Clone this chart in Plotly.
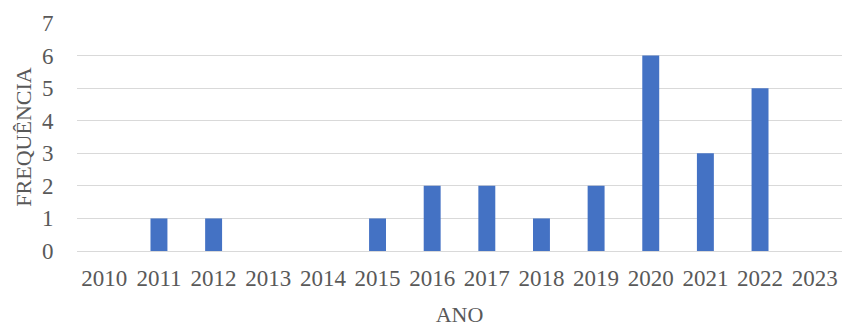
import plotly.graph_objects as go

anos = ["2010", "2011", "2012", "2013", "2014", "2015", "2016",
        "2017", "2018", "2019", "2020", "2021", "2022", "2023"]
frequencia = [0, 1, 1, 0, 0, 1, 2, 2, 1, 2, 6, 3, 5, 0]
y_ticks = [0, 1, 2, 3, 4, 5, 6, 7]

font_family = "Liberation Serif, Times New Roman, serif"
text_color = "#595959"

fig = go.Figure(go.Bar(x=anos, y=frequencia, marker_color="#4472C4",
                       marker_line_width=0))

fig.update_layout(
    width=842, height=327,
    margin=dict(l=77, r=0, t=23, b=76),
    paper_bgcolor="white", plot_bgcolor="white",
    bargap=0.69,
    showlegend=False,
    font=dict(family=font_family, size=22, color=text_color),
)
fig.update_xaxes(
    type="category", range=[-0.5, 13.5],
    showgrid=False, showline=False, zeroline=False,
    ticks="outside", ticklen=6, tickcolor="rgba(0,0,0,0)",
    tickfont=dict(size=23, color=text_color),
    title=dict(text="ANO", font=dict(size=22, color=text_color), standoff=22),
)
fig.update_yaxes(
    range=[0, 7], tickvals=y_ticks,
    showgrid=True, gridcolor="#d9d9d9", gridwidth=1,
    zeroline=True, zerolinecolor="#d9d9d9", zerolinewidth=1,
    showline=False,
    ticks="outside", ticklen=18, tickcolor="rgba(0,0,0,0)",
    tickfont=dict(size=23, color=text_color),
    title=dict(text="FREQUÊNCIA", font=dict(size=22, color=text_color), standoff=4),
)

fig.write_html("out.html")
